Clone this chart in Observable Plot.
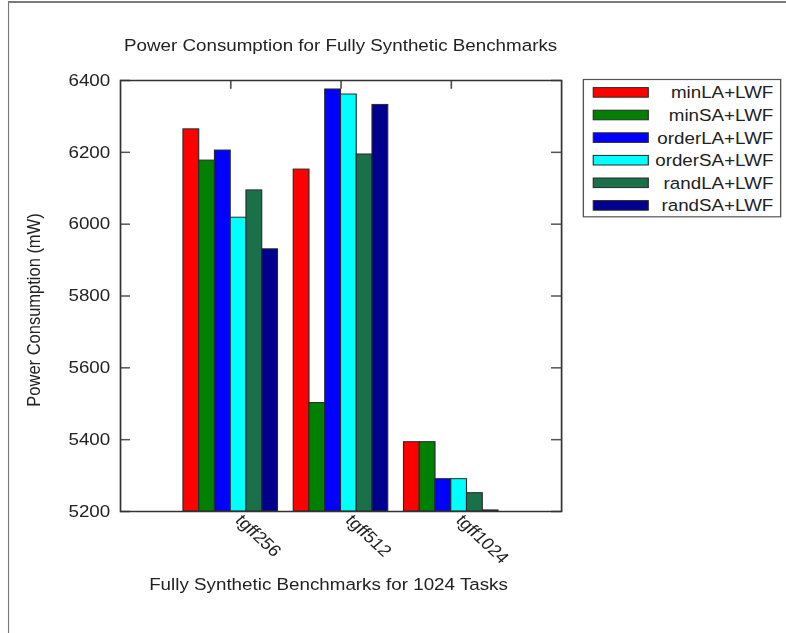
<!DOCTYPE html>
<html>
<head>
<meta charset="utf-8">
<script src="https://cdn.jsdelivr.net/npm/d3@7"></script>
<script src="https://cdn.jsdelivr.net/npm/@observablehq/plot@0.6"></script>
<style>
  html, body { margin: 0; padding: 0; background: #fff; overflow: hidden; }
  #page {
    position: relative; width: 690px; height: 633px;
    transform: scaleX(1.13913); transform-origin: 0 0;
    font-family: "Liberation Sans", Arial, sans-serif; color: #222;
  }
  #page > svg { position: absolute; left: 0; top: 0; }
  #border {
    position: absolute; left: 7.4px; top: 1px; width: 900px; height: 900px;
    border-left: 1.8px solid #7a7a7a; border-top: 2px solid #7a7a7a;
  }
</style>
</head>
<body>
<div id="page"><div id="border"></div></div>
<script>
// Benchmarks on the x axis
const categories = ["tgff256", "tgff512", "tgff1024"];
// Mapping strategies (one bar each per benchmark)
const series = ["minLA+LWF", "minSA+LWF", "orderLA+LWF", "orderSA+LWF", "randLA+LWF", "randSA+LWF"];
const colors = ["#ff0000", "#008000", "#0000ff", "#00ffff", "#1a7048", "#00008f"];
// Power consumption (mW) per strategy, in benchmark order
const minLA   = [6264, 6152, 5393];
const minSA   = [6177, 5502, 5393];
const orderLA = [6205, 6375, 5290];
const orderSA = [6018, 6361, 5290];
const randLA  = [6094, 6194, 5251];
const randSA  = [5930, 6332, 5203];
const yDomain = [5200, 6400];
const yTicks = [5200, 5400, 5600, 5800, 6000, 6200, 6400];

const valuesBySeries = [minLA, minSA, orderLA, orderSA, randLA, randSA];
const rows = categories.flatMap((category, gi) =>
  series.map((name, si) => ({category, series: name, gi, si, value: valuesBySeries[si][gi]}))
);
const xTicks = categories.map((_, i) => i + 1);
const slot = 1 / (series.length + 1);

const W = 690, H = 633;
const mL = 105.3, mR = 197.5, mT = 80, mB = 122;
const innerW = W - mL - mR, innerH = H - mT - mB;
const tickLen = 8.8;
const font = "'Liberation Sans', Arial, sans-serif";

const chart = Plot.plot({
  width: W, height: H,
  marginLeft: mL, marginRight: mR, marginTop: mT, marginBottom: mB,
  style: {fontFamily: font, fontSize: "16.5px", color: "#222", background: "transparent"},
  x: {
    domain: [0, categories.length + 1], ticks: xTicks,
    tickFormat: i => categories[i - 1], tickRotate: 47,
    tickSize: 0, tickPadding: 6, label: null
  },
  y: {domain: yDomain, ticks: yTicks, tickFormat: d => String(d), tickSize: 0, tickPadding: 9, label: null},
  marks: [
    Plot.tickX(xTicks, {x: d => d, stroke: "#555", strokeWidth: 1.5, insetBottom: innerH - tickLen}),
    Plot.tickX(xTicks, {x: d => d, stroke: "#555", strokeWidth: 1.5, insetTop: innerH - tickLen}),
    Plot.rectY(rows, {
      x1: d => d.gi + 1 + (d.si - series.length / 2) * slot,
      x2: d => d.gi + 1 + (d.si - series.length / 2 + 1) * slot,
      y1: () => yDomain[0], y2: "value",
      fill: d => colors[d.si], stroke: "#2a2a2a", strokeWidth: 1
    }),
    Plot.tickY(yTicks, {y: d => d, stroke: "#555", strokeWidth: 1.5, insetRight: innerW - tickLen}),
    Plot.tickY(yTicks, {y: d => d, stroke: "#555", strokeWidth: 1.5, insetLeft: innerW - tickLen}),
    Plot.frame({stroke: "#333", strokeWidth: 1.5})
  ]
});
// Nudge the rotated benchmark names a little to the right of their ticks
d3.select(chart).selectAll("text")
  .filter(function() { return categories.includes(this.textContent); })
  .attr("transform", function() { return "translate(7,0) " + (this.getAttribute("transform") || ""); });
document.getElementById("page").appendChild(chart);

// Title, axis titles and legend
const svg = d3.select("#page").append("svg")
  .attr("width", W).attr("height", H)
  .style("font-family", font).style("font-size", "16.5px").attr("fill", "#222");

svg.append("text").attr("x", 299).attr("y", 51).attr("text-anchor", "middle")
  .text("Power Consumption for Fully Synthetic Benchmarks");
svg.append("text").attr("x", 288.4).attr("y", 590).attr("text-anchor", "middle")
  .text("Fully Synthetic Benchmarks for 1024 Tasks");
svg.append("text").attr("transform", "translate(35,310) rotate(-90)").attr("text-anchor", "middle")
  .text("Power Consumption (mW)");

const legend = svg.append("g");
legend.append("rect").attr("x", 512.1).attr("y", 79.5).attr("width", 173.2).attr("height", 137.3)
  .attr("fill", "#fff").attr("stroke", "#555").attr("stroke-width", 1.2);
series.forEach((name, i) => {
  const cy = 92.4 + i * 22.6;
  legend.append("rect").attr("x", 520.8).attr("y", cy - 4.8).attr("width", 48.3).attr("height", 9.6)
    .attr("fill", colors[i]).attr("stroke", "#2a2a2a").attr("stroke-width", 1);
  legend.append("text").attr("x", 678.9).attr("y", cy + 6).attr("text-anchor", "end").text(name);
});
</script>
</body>
</html>
